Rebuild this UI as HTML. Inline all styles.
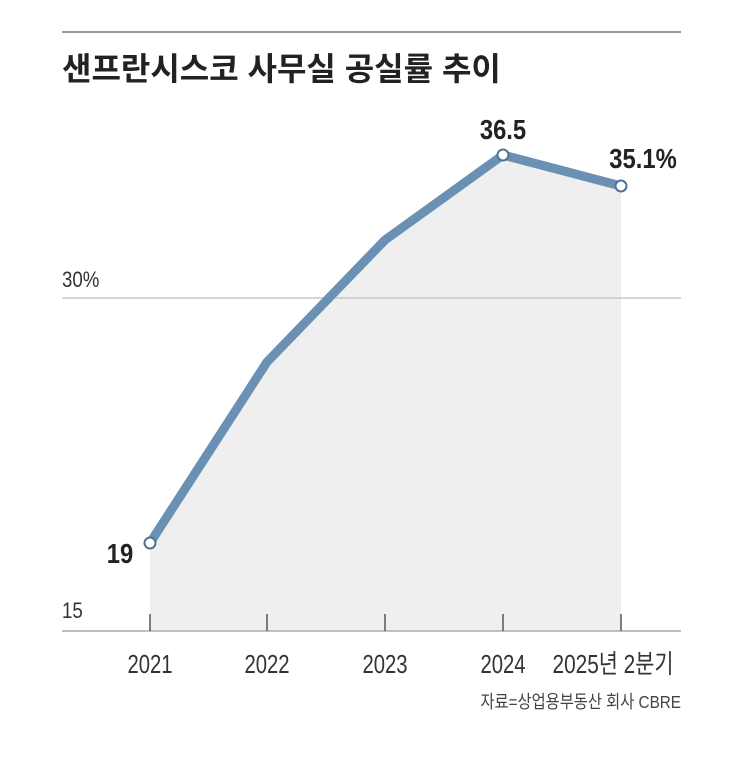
<!DOCTYPE html>
<html><head><meta charset="utf-8"><style>
body{margin:0;background:#fff;}
svg text{font-family:"Liberation Sans","Noto Sans CJK KR",sans-serif;}
</style></head><body>
<svg width="743" height="766" viewBox="0 0 743 766" xmlns="http://www.w3.org/2000/svg">
<rect width="743" height="766" fill="#fff"/>
<line x1="62" y1="32" x2="681" y2="32" stroke="#999" stroke-width="2"/>
<text x="62" y="80" font-size="32" font-weight="bold" fill="#222" font-family="'Noto Sans CJK KR',sans-serif">샌프란시스코 사무실 공실률 추이</text>
<polygon points="150,543 267,362 385,240 503,155 621,186 621,630 150,630" fill="#efefef"/>
<line x1="62" y1="298" x2="681" y2="298" stroke="#c8c8c8" stroke-width="1.5"/>
<text x="62" y="287" font-size="22" fill="#333" transform="translate(62,0) scale(0.85,1) translate(-62,0)">30%</text>
<text x="62" y="618" font-size="22" fill="#333" transform="translate(62,0) scale(0.85,1) translate(-62,0)">15</text>
<line x1="62" y1="631" x2="681" y2="631" stroke="#aaa" stroke-width="1.5"/>
<g stroke="#555" stroke-width="1.5">
<line x1="150" y1="614" x2="150" y2="631"/><line x1="267" y1="614" x2="267" y2="631"/><line x1="385" y1="614" x2="385" y2="631"/><line x1="503" y1="614" x2="503" y2="631"/><line x1="621" y1="614" x2="621" y2="631"/>
</g>
<polyline points="150,543 267,362 385,240 503,155 621,186" fill="none" stroke="#6a90b3" stroke-width="9" stroke-linejoin="round"/>
<g fill="#fff" stroke="#4f7396" stroke-width="2">
<circle cx="150" cy="543" r="5.5"/><circle cx="503" cy="155" r="5.5"/><circle cx="621" cy="186" r="5.5"/>
</g>
<g font-size="28" font-weight="bold" fill="#222">
<text x="120" y="563" text-anchor="middle" transform="translate(120,0) scale(0.85,1) translate(-120,0)">19</text>
<text x="503" y="139" text-anchor="middle" transform="translate(503,0) scale(0.85,1) translate(-503,0)">36.5</text>
<text x="643" y="168" text-anchor="middle" transform="translate(643,0) scale(0.85,1) translate(-643,0)">35.1%</text>
</g>
<g font-size="26" fill="#333" text-anchor="middle">
<text x="150" y="673" transform="translate(150,0) scale(0.78,1) translate(-150,0)">2021</text>
<text x="267" y="673" transform="translate(267,0) scale(0.78,1) translate(-267,0)">2022</text>
<text x="385" y="673" transform="translate(385,0) scale(0.78,1) translate(-385,0)">2023</text>
<text x="503" y="673" transform="translate(503,0) scale(0.78,1) translate(-503,0)">2024</text>
<text x="613" y="673" transform="translate(613,0) scale(0.8,1) translate(-613,0)">2025년 2분기</text>
</g>
<text x="681" y="708" font-size="18" fill="#444" text-anchor="end" transform="translate(681,0) scale(0.85,1) translate(-681,0)">자료=상업용부동산 회사 CBRE</text>
</svg>
</body></html>
